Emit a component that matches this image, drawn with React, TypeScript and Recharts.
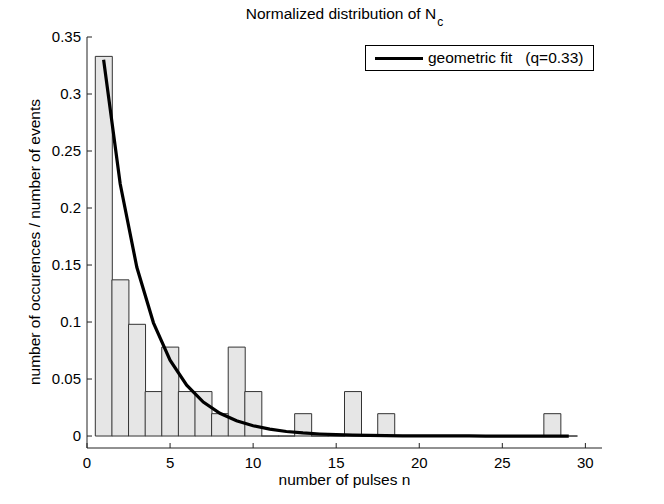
import React from 'react';
import { ComposedChart, Bar, Line, XAxis, YAxis } from 'recharts';

// number of pulses per event (histogram bins)
const pulseCounts = [1, 2, 3, 4, 5, 6, 7, 8, 9, 10, 11, 12, 13, 14, 15, 16, 17, 18, 19, 20, 21, 22, 23, 24, 25, 26, 27, 28, 29];
// normalized occurrences (n / 51 events)
const frequencies = [0.333, 0.137, 0.098, 0.039, 0.078, 0.039, 0.039, 0.0196, 0.078, 0.039, 0, 0, 0.0196, 0, 0, 0.039, 0, 0.0196, 0, 0, 0, 0, 0, 0, 0, 0, 0, 0.0196, 0];
// geometric fit, q = 0.33
const fitValues = [0.33, 0.221, 0.148, 0.0993, 0.0665, 0.0446, 0.0298, 0.02, 0.0134, 0.009, 0.006, 0.004, 0.0027, 0.0018, 0.0012, 0.0008, 0.0005, 0.0004, 0.0002, 0.0002, 0.0001, 0.0001, 0.0001, 0, 0, 0, 0, 0, 0];

const xTicks = [0, 5, 10, 15, 20, 25, 30];
const yTicks = [0, 0.05, 0.1, 0.15, 0.2, 0.25, 0.3, 0.35];

const FONT = '"Liberation Sans", Arial, Helvetica, sans-serif';

const data = pulseCounts.map((n, i) => ({ n, freq: frequencies[i], fit: fitValues[i] }));

// matlab-style bar: outline drawn even when the bin is empty
const HistBar = (props: any) => {
  const { x, y, width, height } = props;
  if (x == null || y == null) return null;
  const top = Math.min(y, y + height);
  const bottom = Math.max(y, y + height);
  const d = `M${x},${bottom} L${x},${top} L${x + width},${top} L${x + width},${bottom} Z`;
  return <path d={d} fill="#e6e6e6" stroke="#333" strokeWidth={1} />;
};

const LegendBox = () => (
  <div
    style={{
      position: 'absolute',
      left: 365,
      top: 45,
      width: 227,
      height: 24,
      border: '1px solid #000',
      background: '#fff',
      fontFamily: FONT,
      fontSize: 15.5,
    }}
  >
    <div style={{ position: 'absolute', left: 9, top: 10.5, width: 48, height: 3, background: '#000' }} />
    <div style={{ position: 'absolute', left: 62, top: 3, whiteSpace: 'pre', lineHeight: '18px' }}>
      {'geometric fit   (q=0.33)'}
    </div>
  </div>
);

export default function App() {
  return (
    <div style={{ position: 'absolute', left: 0, top: 0, width: 664, height: 504, background: '#fff', fontFamily: FONT }}>
      <div
        style={{
          position: 'absolute',
          left: 87,
          width: 515,
          top: 5,
          textAlign: 'center',
          fontSize: 15.5,
          lineHeight: '18px',
          whiteSpace: 'nowrap',
        }}
      >
        Normalized distribution of N
        <span style={{ fontSize: 12, position: 'relative', top: 7, marginLeft: 1 }}>c</span>
      </div>
      <div
        style={{
          position: 'absolute',
          left: 35 - 200,
          top: 242 - 9,
          width: 400,
          height: 18,
          lineHeight: '18px',
          textAlign: 'center',
          fontSize: 15.5,
          transform: 'rotate(-90deg)',
          transformOrigin: '50% 50%',
          whiteSpace: 'nowrap',
        }}
      >
        number of occurences / number of events
      </div>
      <ComposedChart
        width={664}
        height={504}
        data={data}
        margin={{ top: 37, right: 62, bottom: 0, left: 0 }}
        barCategoryGap={0}
        barGap={0}
      >
        <XAxis
          type="number"
          dataKey="n"
          domain={[0, 31]}
          ticks={xTicks}
          allowDataOverflow
          height={56}
          stroke="#222"
          tickSize={-5}
          tickMargin={14}
          tick={{ fill: '#000', fontSize: 15, fontFamily: FONT }}
          label={{ value: 'number of pulses n', position: 'insideBottom', offset: 19, fill: '#000', fontSize: 15.5, fontFamily: FONT }}
        />
        <YAxis
          type="number"
          domain={[-0.0105, 0.35]}
          ticks={yTicks}
          allowDataOverflow
          width={87}
          stroke="#222"
          tickSize={-5}
          tickMargin={11}
          tick={{ fill: '#000', fontSize: 15, fontFamily: FONT }}
        />
        <Bar dataKey="freq" shape={HistBar} isAnimationActive={false} />
        <Line
          type="linear"
          dataKey="fit"
          stroke="#000"
          strokeWidth={3.2}
          dot={false}
          activeDot={false}
          isAnimationActive={false}
        />
      </ComposedChart>
      <LegendBox />
    </div>
  );
}
